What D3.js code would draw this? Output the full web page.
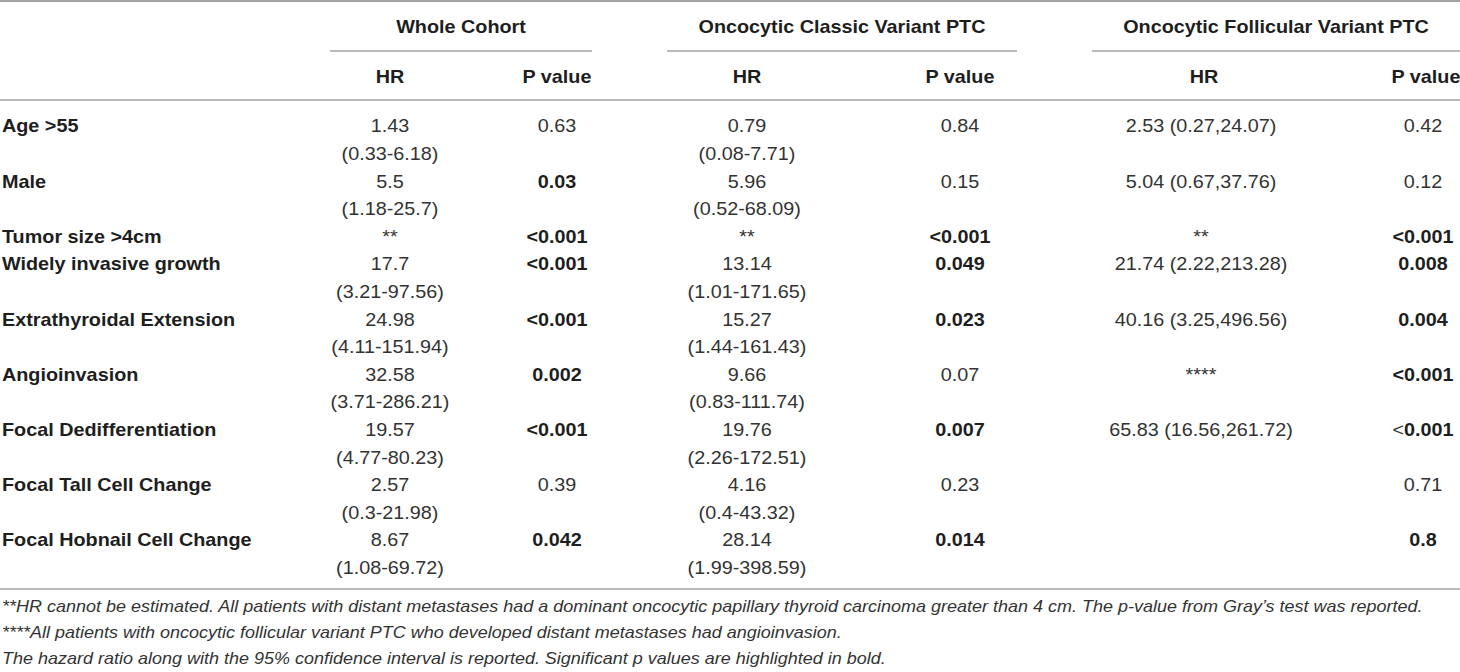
<!DOCTYPE html>
<html><head><meta charset="utf-8">
<script src="https://cdn.jsdelivr.net/npm/d3@7"></script>
<style>html,body{margin:0;padding:0;background:#fff;} svg{display:block;}</style>
</head><body>
<svg id="chart" width="1460" height="672"></svg>
<script>
// ---------- DATA ----------
const groups = ["Whole Cohort", "Oncocytic Classic Variant PTC", "Oncocytic Follicular Variant PTC"];
const subHeaders = ["HR", "P value"];
const variables = ["Age >55", "Male", "Tumor size >4cm", "Widely invasive growth", "Extrathyroidal Extension",
  "Angioinvasion", "Focal Dedifferentiation", "Focal Tall Cell Change", "Focal Hobnail Cell Change"];

const wholeHR = [["1.43", "(0.33-6.18)"], ["5.5", "(1.18-25.7)"], ["**"], ["17.7", "(3.21-97.56)"],
  ["24.98", "(4.11-151.94)"], ["32.58", "(3.71-286.21)"], ["19.57", "(4.77-80.23)"],
  ["2.57", "(0.3-21.98)"], ["8.67", "(1.08-69.72)"]];
const wholeP = ["0.63", "0.03", "<0.001", "<0.001", "<0.001", "0.002", "<0.001", "0.39", "0.042"];
const wholeSig = [0, 1, 1, 1, 1, 1, 1, 0, 1];

const classicHR = [["0.79", "(0.08-7.71)"], ["5.96", "(0.52-68.09)"], ["**"], ["13.14", "(1.01-171.65)"],
  ["15.27", "(1.44-161.43)"], ["9.66", "(0.83-111.74)"], ["19.76", "(2.26-172.51)"],
  ["4.16", "(0.4-43.32)"], ["28.14", "(1.99-398.59)"]];
const classicP = ["0.84", "0.15", "<0.001", "0.049", "0.023", "0.07", "0.007", "0.23", "0.014"];
const classicSig = [0, 0, 1, 1, 1, 0, 1, 0, 1];

const follicularHR = [["2.53 (0.27,24.07)"], ["5.04 (0.67,37.76)"], ["**"], ["21.74 (2.22,213.28)"],
  ["40.16 (3.25,496.56)"], ["****"], ["65.83 (16.56,261.72)"], [""], [""]];
const follicularP = ["0.42", "0.12", "<0.001", "0.008", "0.004", "<0.001", "<0.001", "0.71", "0.8"];
// 1 = bold, 2 = only the number after "<" bold
const follicularSig = [0, 0, 1, 1, 1, 1, 2, 0, 1];

const footnotes = [
  "**HR cannot be estimated. All patients with distant metastases had a dominant oncocytic papillary thyroid carcinoma greater than 4 cm. The p-value from Gray\u2019s test was reported.",
  "****All patients with oncocytic follicular variant PTC who developed distant metastases had angioinvasion.",
  "The hazard ratio along with the 95% confidence interval is reported. Significant p values are highlighted in bold."
];

// ---------- LAYOUT ----------
const W = 1460, H = 672;
const FS = 18, SX = 1.1, FN_FS = 16, FN_SX = 1.125;
const FONT = "'Liberation Sans', Arial, Helvetica, sans-serif";
const BOLD_C = "#1e1e1e", REG_C = "#333333", RULE_C = "#a3a3a3";

const svg = d3.select("#chart");
svg.append("rect").attr("width", W).attr("height", H).attr("fill", "#fff");

const cols = [
  { hr: wholeHR, p: wholeP, sig: wholeSig },
  { hr: classicHR, p: classicP, sig: classicSig },
  { hr: follicularHR, p: follicularP, sig: follicularSig }
];

// column centre positions
const xCol = d3.scaleOrdinal()
  .domain(["g0HR", "g0P", "g1HR", "g1P", "g2HR", "g2P"])
  .range([390, 557, 747, 960, 1201, 1423]);
const groupSpan = [[330, 592], [667, 1017], [1092, 1460]];

// rows measured in text lines
const lineCounts = variables.map((v, i) => Math.max(1, ...cols.map(c => c.hr[i].length)));
const lineStart = [];
lineCounts.reduce((acc, n, i) => { lineStart[i] = acc; return acc + n; }, 0);
const yLine = d3.scaleLinear().domain([0, 1]).range([126, 153.6]); // centre of line

function addText(sel, x, yc, str, o = {}) {
  const fs = o.fs || FS, sx = o.sx || SX;
  const t = sel.append("text")
    .attr("transform", `translate(${x},${yc + 0.358 * fs}) scale(${sx},1)`)
    .attr("text-anchor", o.anchor || "middle")
    .attr("font-family", FONT)
    .attr("font-size", fs)
    .attr("font-weight", o.bold ? 700 : 400)
    .attr("font-style", o.italic ? "italic" : "normal")
    .attr("fill", o.bold ? BOLD_C : REG_C);
  if (str !== null) t.text(str);
  return t;
}

function rule(y, x1, x2, w) {
  svg.append("line").attr("x1", x1).attr("x2", x2).attr("y1", y).attr("y2", y)
    .attr("stroke", RULE_C).attr("stroke-width", w || 1.6);
}

// rules
rule(1, 0, W, 1.8);
groupSpan.forEach(s => rule(51, s[0], s[1], 1.4));
rule(100, 0, W, 1.6);
rule(589, 0, W, 1.6);

// headers
const head = svg.append("g");
groups.forEach((g, i) => addText(head, (groupSpan[i][0] + groupSpan[i][1]) / 2, 27, g, { bold: true }));
groups.forEach((g, i) => {
  addText(head, xCol(`g${i}HR`) + (i === 2 ? 3 : 0), 77, subHeaders[0], { bold: true });
  addText(head, xCol(`g${i}P`) + (i === 2 ? 3 : 0), 77, subHeaders[1], { bold: true });
});

// body
const body = svg.append("g");
variables.forEach((v, i) => {
  const yc = yLine(lineStart[i]);
  addText(body, 2, yc, v, { bold: true, anchor: "start" });
  cols.forEach((c, gi) => {
    c.hr[i].forEach((s, li) => { if (s) addText(body, xCol(`g${gi}HR`), yLine(lineStart[i] + li), s); });
    const sig = c.sig[i];
    const pv = c.p[i];
    if (sig === 2) {
      const t = addText(body, xCol(`g${gi}P`), yc, null, { bold: true });
      t.append("tspan").attr("font-weight", 400).attr("fill", REG_C).text(pv.slice(0, 1));
      t.append("tspan").text(pv.slice(1));
    } else {
      addText(body, xCol(`g${gi}P`), yc, pv, { bold: sig === 1 });
    }
  });
});

// footnotes
const fn = svg.append("g");
const yFoot = d3.scaleLinear().domain([0, 1]).range([606, 632]);
footnotes.forEach((f, i) => addText(fn, 2, yFoot(i), f, { italic: true, anchor: "start", fs: FN_FS, sx: FN_SX }));
</script>
</body></html>
